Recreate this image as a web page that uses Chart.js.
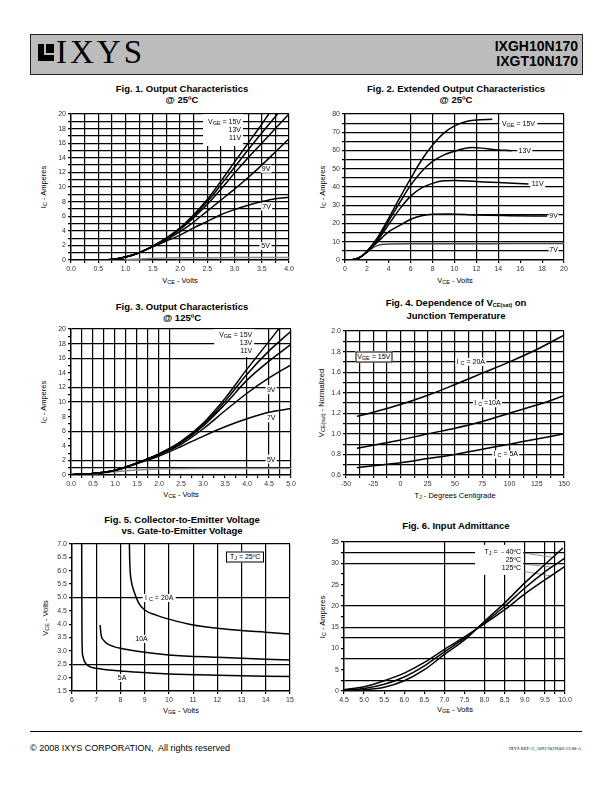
<!DOCTYPE html>
<html lang="en">
<head>
<meta charset="UTF-8">
<title>IXGH10N170 / IXGT10N170</title>
<script src="https://cdn.jsdelivr.net/npm/chart.js"></script>
<style>
  body { margin: 0; background: #fff; font-family: 'Liberation Sans', Arial, sans-serif; color: #000; }
  #page { position: relative; width: 612px; height: 792px; overflow: hidden; }
  .abs { position: absolute; white-space: nowrap; }
  .ttl { font-weight: bold; font-size: 9.5px; line-height: 11px; text-align: center; transform: translateX(-50%); }
  .axt { font-size: 7.5px; transform: translate(-50%, -50%); }
  .axt.rot { transform: translate(-50%, -50%) rotate(-90deg); }
  sub { font-size: 5.5px; vertical-align: -1px; line-height: 0; }
  .note { position: absolute; font-size: 7px; line-height: 8px; transform: translate(-50%, -50%);
          display: flex; flex-direction: column; justify-content: center; box-sizing: border-box; white-space: nowrap; }
  canvas { position: absolute; }
</style>
</head>
<body>
<div id="page">
  <!-- header -->
  <div class="abs" style="left:30px;top:34px;width:551px;height:39px;background:#bcbcbc;border:1px solid #222;"></div>
  <div class="abs" style="left:38px;top:44px;width:16px;height:17px;background:#000;"></div>
  <div class="abs" style="left:44px;top:44px;width:2px;height:11px;background:#bcbcbc;"></div>
  <div class="abs" style="left:44px;top:53px;width:10px;height:2px;background:#bcbcbc;"></div>
  <div class="abs" style="left:56px;top:33px;font-family:'Liberation Serif',serif;font-size:33px;letter-spacing:3px;line-height:38px;">IXYS</div>
  <div class="abs" style="right:34px;top:39px;font-weight:bold;font-size:14px;line-height:15px;text-align:right;">IXGH10N170<br>IXGT10N170</div>

  <!-- titles -->
  <div class="abs ttl" style="left:182px;top:83px;">Fig. 1. Output Characteristics<br>@ 25ºC</div>
  <div class="abs ttl" style="left:456px;top:83px;">Fig. 2. Extended Output Characteristics<br>@ 25ºC</div>
  <div class="abs ttl" style="left:182px;top:301px;">Fig. 3. Output Characteristics<br>@ 125ºC</div>
  <div class="abs ttl" style="left:456px;top:297px;line-height:12.5px;">Fig. 4. Dependence of V<sub>CE(sat)</sub> on<br>Junction Temperature</div>
  <div class="abs ttl" style="left:182px;top:514px;">Fig. 5. Collector-to-Emitter Voltage<br>vs. Gate-to-Emitter Voltage</div>
  <div class="abs ttl" style="left:456px;top:520px;">Fig. 6. Input Admittance</div>

  <!-- axis titles -->
  <div class="abs axt" style="left:180px;top:280px;">V<sub>CE</sub> - Volts</div>
  <div class="abs axt rot" style="left:43px;top:187px;">I<sub>C</sub> - Amperes</div>
  <div class="abs axt" style="left:455px;top:280px;">V<sub>CE</sub> - Volts</div>
  <div class="abs axt rot" style="left:322px;top:187px;">I<sub>C</sub> - Amperes</div>
  <div class="abs axt" style="left:181px;top:494px;">V<sub>CE</sub> - Volts</div>
  <div class="abs axt rot" style="left:43px;top:402px;">I<sub>C</sub> - Amperes</div>
  <div class="abs axt" style="left:455px;top:495px;">T<sub>J</sub> - Degrees Centigrade</div>
  <div class="abs axt rot" style="left:321px;top:403px;">V<sub>CE(sat)</sub> - Normalized</div>
  <div class="abs axt" style="left:181px;top:710px;">V<sub>GE</sub> - Volts</div>
  <div class="abs axt rot" style="left:45px;top:618px;">V<sub>CE</sub> - Volts</div>
  <div class="abs axt" style="left:455px;top:709px;">V<sub>GE</sub> - Volts</div>
  <div class="abs axt rot" style="left:322px;top:617px;">I<sub>C</sub> - Amperes</div>

  <!-- footer -->
  <div class="abs" style="left:30px;top:731px;width:552px;height:1px;background:#000;"></div>
  <div class="abs" style="left:30px;top:743px;font-size:9px;line-height:11px;">© 2008 IXYS CORPORATION,&nbsp; All rights reserved</div>
  <div class="abs" style="right:31px;top:746px;font-family:'Liberation Serif',serif;font-size:4.5px;line-height:6px;">IXYS REF: G_10N170(5N)03-13-08-A</div>
</div>

<script>
const FONT = "'Liberation Sans', Arial, sans-serif";

// Fig. 1  Output characteristics @ 25C  (VCE, IC)
const f1XTicks = [0, 0.5, 1.0, 1.5, 2.0, 2.5, 3.0, 3.5, 4.0];
const f1YTicks = [0, 2, 4, 6, 8, 10, 12, 14, 16, 18, 20];
const f1v15 = [[0,0],[0.5,0.02],[0.75,0.08],[1.0,0.4],[1.25,1.0],[1.5,1.9],[1.75,3.0],[2.0,4.4],[2.25,6.2],[2.5,8.3],[2.75,10.8],[3.0,13.4],[3.25,16.0],[3.5,18.6],[3.63,20]];
const f1v13 = [[0,0],[0.5,0.02],[0.75,0.08],[1.0,0.4],[1.25,1.0],[1.5,1.9],[1.75,3.0],[2.0,4.3],[2.25,6.0],[2.5,8.0],[2.75,10.3],[3.0,12.7],[3.25,15.1],[3.5,17.4],[3.79,20]];
const f1v11 = [[0,0],[0.5,0.02],[0.75,0.08],[1.0,0.4],[1.25,1.0],[1.5,1.9],[1.75,2.95],[2.0,4.2],[2.25,5.8],[2.5,7.6],[2.75,9.7],[3.0,11.9],[3.25,14.0],[3.5,16.0],[3.75,18.0],[4.0,20]];
const f1v9  = [[0,0],[0.5,0.02],[0.75,0.08],[1.0,0.4],[1.25,1.0],[1.5,1.85],[1.75,2.8],[2.0,3.9],[2.25,5.2],[2.5,6.7],[2.75,8.2],[3.0,9.7],[3.25,11.3],[3.5,13.0],[3.75,14.8],[4.0,16.6]];
const f1v7  = [[0,0],[0.5,0.02],[0.75,0.08],[1.0,0.4],[1.25,1.0],[1.5,1.8],[1.75,2.6],[2.0,3.4],[2.25,4.4],[2.5,5.3],[2.75,6.2],[3.0,6.9],[3.25,7.5],[3.5,8.0],[3.75,8.4],[4.0,8.6]];
const f1v5  = [[1.0,0.05],[1.25,0.15],[1.5,0.25],[2.0,0.3],[3.0,0.33],[4.0,0.35]];

// Fig. 2  Extended output characteristics @ 25C
const f2XTicks = [0, 2, 4, 6, 8, 10, 12, 14, 16, 18, 20];
const f2YTicks = [0, 10, 20, 30, 40, 50, 60, 70, 80];
const f2v15 = [[0,0],[0.5,0.05],[1.0,0.5],[1.5,2.0],[2.0,4.8],[3.0,12.5],[4.0,23],[5.0,34],[6.0,44.7],[7.0,54.8],[8.0,63],[9.0,69.4],[10.0,73.5],[11.0,75.8],[12.0,76.7],[13.45,77.1]];
const f2v13 = [[0,0],[0.5,0.05],[1.0,0.5],[1.5,2.0],[2.0,4.7],[3.0,12],[4.0,21.5],[5.0,31.5],[6.0,41],[7.0,48.5],[8.0,54],[9.0,57.5],[10.0,59.6],[11.0,61.2],[11.6,61.6],[12.5,61.3],[13.5,60.6],[15.2,59.9]];
const f2v11 = [[0,0],[0.5,0.05],[1.0,0.5],[1.5,2.0],[2.0,4.5],[3.0,11],[4.0,19.5],[5.0,28],[6.0,35],[7.0,39.5],[8.0,42],[9.0,43.4],[10.0,43.6],[12.0,43.0],[14.0,42.4],[16.75,41.6]];
const f2v9  = [[0,0],[0.5,0.05],[1.0,0.5],[1.5,2.0],[2.0,4.3],[3.0,10],[4.0,15.5],[5.0,19.0],[6.0,22.3],[7.0,24.3],[8.0,25.1],[9.5,25.2],[12.0,24.6],[15.0,24.3],[18.45,24.1]];
const f2v7  = [[0,0],[0.5,0.05],[1.0,0.5],[1.5,2.0],[2.0,4.2],[2.5,6.5],[3.0,8.0],[3.5,8.6],[4.0,8.8],[6.0,8.9],[10.0,8.9],[15.0,9.0],[20.0,9.1]];

// Fig. 3  Output characteristics @ 125C
const f3XTicks = [0, 0.5, 1.0, 1.5, 2.0, 2.5, 3.0, 3.5, 4.0, 4.5, 5.0];
const f3YTicks = [0, 2, 4, 6, 8, 10, 12, 14, 16, 18, 20];
const f3v15 = [[0,0.05],[0.5,0.2],[1.0,0.65],[1.5,1.65],[2.0,2.9],[2.5,4.6],[3.0,7.1],[3.5,10.5],[4.0,14.5],[4.5,18.3],[4.72,20]];
const f3v13 = [[0,0.05],[0.5,0.2],[1.0,0.65],[1.5,1.65],[2.0,2.9],[2.5,4.5],[3.0,6.9],[3.5,10.1],[4.0,13.8],[4.5,17.0],[5.0,19.7]];
const f3v11 = [[0,0.05],[0.5,0.2],[1.0,0.65],[1.5,1.65],[2.0,2.85],[2.5,4.4],[3.0,6.7],[3.5,9.7],[4.0,13.0],[4.5,15.6],[5.0,17.9]];
const f3v9  = [[0,0.05],[0.5,0.2],[1.0,0.65],[1.5,1.6],[2.0,2.8],[2.5,4.2],[3.0,6.3],[3.5,8.8],[4.0,11.2],[4.5,13.3],[5.0,15.1]];
const f3v7  = [[0,0.05],[0.5,0.2],[1.0,0.6],[1.5,1.55],[2.0,2.6],[2.5,3.9],[3.0,5.3],[3.5,6.6],[4.0,7.7],[4.5,8.6],[5.0,9.1]];
const f3v5  = [[0,0.05],[0.5,0.15],[1.0,0.45],[1.5,0.7],[2.0,0.82],[3.0,0.88],[5.0,0.9]];

// Fig. 4  VCE(sat) normalized vs junction temperature
const f4XTicks = [-50, -25, 0, 25, 50, 75, 100, 125, 150];
const f4YTicks = [0.6, 0.8, 1.0, 1.2, 1.4, 1.6, 1.8, 2.0];
const f4Temp = [-40, -25, 0, 25, 50, 75, 100, 125, 150];
const f4ic20 = [1.17, 1.21, 1.285, 1.375, 1.48, 1.59, 1.70, 1.82, 1.96];
const f4ic10 = [0.86, 0.89, 0.94, 1.0, 1.055, 1.12, 1.20, 1.28, 1.37];
const f4ic5  = [0.67, 0.69, 0.72, 0.76, 0.80, 0.85, 0.90, 0.95, 1.0];

// Fig. 5  VCE vs VGE @ TJ = 25C  (VGE, VCE)
const f5XTicks = [6, 7, 8, 9, 10, 11, 12, 13, 14, 15];
const f5YTicks = [1.5, 2.0, 2.5, 3.0, 3.5, 4.0, 4.5, 5.0, 5.5, 6.0, 6.5, 7.0];
const f5ic20 = [[8.37,7.0],[8.38,6.5],[8.40,6.0],[8.45,5.6],[8.55,5.25],[8.75,4.8],[9.0,4.53],[9.5,4.33],[10,4.19],[11,3.97],[12,3.85],[13,3.76],[14,3.70],[15,3.63]];
const f5ic10 = [[7.16,3.97],[7.2,3.6],[7.3,3.4],[7.45,3.27],[7.7,3.17],[8.0,3.10],[9.0,2.95],[10,2.85],[12,2.76],[15,2.66]];
const f5ic5  = [[6.40,7.0],[6.41,4.0],[6.42,3.1],[6.45,2.8],[6.52,2.6],[6.67,2.44],[7.0,2.35],[8,2.25],[9,2.19],[10,2.14],[12,2.09],[15,2.04]];

// Fig. 6  Input admittance  (VGE, IC)
const f6XTicks = [4.5, 5.0, 5.5, 6.0, 6.5, 7.0, 7.5, 8.0, 8.5, 9.0, 9.5, 10.0];
const f6YTicks = [0, 5, 10, 15, 20, 25, 30, 35];
const f6m40  = [[4.5,0.05],[5.0,0.3],[5.5,0.9],[6.0,2.4],[6.5,5.0],[7.0,8.6],[7.5,12.0],[8.0,16.4],[8.5,20.7],[9.0,25.4],[9.5,29.7],[9.95,33.6]];
const f6p25  = [[4.5,0.15],[5.0,0.6],[5.5,1.6],[6.0,3.3],[6.5,5.9],[7.0,9.2],[7.5,12.4],[8.0,16.1],[8.5,19.9],[9.0,24.2],[9.5,28.0],[10.0,31.2]];
const f6p125 = [[4.5,0.3],[5.0,1.0],[5.5,2.4],[6.0,4.2],[6.5,6.7],[7.0,9.8],[7.5,12.7],[8.0,15.8],[8.5,19.1],[9.0,22.8],[9.5,26.1],[10.0,29.3]];
const f6lead40  = [[8.97,32.4],[9.70,31.4]];
const f6lead25  = [[8.97,29.8],[9.68,29.1]];
const f6lead125 = [[8.97,28.1],[9.66,27.0]];

const PADL = 36, PADR = 14, PADT = 8, PADB = 16;
const page = document.getElementById('page');

function range(a, b, s) {
  const out = [];
  for (let v = a; v <= b + 1e-9; v += s) out.push(Math.round(v * 1000) / 1000);
  return out;
}
function near(v, list) { return list.some(g => Math.abs(g - v) < 1e-6); }

function makeAxis(o) {
  return {
    type: 'linear', min: o.min, max: o.max,
    afterBuildTicks: s => { s.ticks = o.ticks.map(v => ({ value: v })); },
    afterFit: s => { if (o.w) s.width = o.w; if (o.h) s.height = o.h; },
    ticks: {
      autoSkip: false, maxRotation: 0, padding: 2, color: '#333',
      font: { size: 7, family: FONT },
      callback: v => near(v, o.labels) ? o.fmt(v) : ''
    },
    grid: {
      color: c => (c.tick && near(c.tick.value, o.grid)) ? '#000' : 'rgba(0,0,0,0)',
      lineWidth: 1.2, tickLength: 3, tickColor: '#000', drawTicks: true
    },
    border: { color: '#000', width: 1.5 }
  };
}

// white boxes behind in-plot labels, drawn over the grid but under the curves
const noteBoxes = {
  id: 'noteBoxes',
  beforeDatasetsDraw(chart, args, opts) {
    const { ctx, scales: { x, y } } = chart;
    ctx.save();
    ctx.fillStyle = '#fff';
    (opts.notes || []).forEach(n => {
      const px = x.getPixelForValue(n.x), py = y.getPixelForValue(n.y);
      ctx.fillRect(px - n.w / 2, py - n.h / 2, n.w, n.h);
    });
    ctx.restore();
  }
};

function line(data, color, width) {
  return {
    data: data.map(p => ({ x: p[0], y: p[1] })),
    showLine: true, borderColor: color || '#000', borderWidth: width || 1.5,
    pointRadius: 0, fill: false, cubicInterpolationMode: 'monotone'
  };
}

function makeFig(box, xo, yo, datasets, notes) {
  const W = box.r - box.l + PADL + PADR, H = box.b - box.t + PADT + PADB;
  const left = box.l - PADL, top = box.t - PADT;
  const cv = document.createElement('canvas');
  cv.width = W; cv.height = H;
  cv.style.left = left + 'px'; cv.style.top = top + 'px';
  cv.style.width = W + 'px'; cv.style.height = H + 'px';
  page.appendChild(cv);
  const chart = new Chart(cv, {
    type: 'scatter',
    data: { datasets },
    options: {
      responsive: false, animation: false, events: [],
      layout: { padding: { left: 0, top: PADT, right: PADR, bottom: 0 } },
      plugins: { legend: { display: false }, tooltip: { enabled: false }, noteBoxes: { notes } },
      scales: { x: makeAxis(Object.assign({ h: PADB }, xo)), y: makeAxis(Object.assign({ w: PADL }, yo)) }
    },
    plugins: [noteBoxes]
  });
  notes.forEach(n => {
    const d = document.createElement('div');
    d.className = 'note';
    d.style.left = (left + chart.scales.x.getPixelForValue(n.x)) + 'px';
    d.style.top = (top + chart.scales.y.getPixelForValue(n.y)) + 'px';
    d.style.width = n.w + 'px';
    d.style.height = n.h + 'px';
    d.style.alignItems = n.align === 'right' ? 'flex-end' : 'center';
    if (n.align === 'right') d.style.paddingRight = '2px';
    if (n.boxed) { d.style.border = '1px solid #000'; d.style.background = '#fff'; }
    d.innerHTML = n.html;
    page.appendChild(d);
  });
  return chart;
}

const f1 = v => v.toFixed(1), f0 = v => String(Math.round(v));

// Fig. 1
makeFig({ l: 71, r: 289, t: 114, b: 260 },
  { min: 0, max: 4, ticks: range(0, 4, 0.25), labels: f1XTicks, grid: range(0.25, 4, 0.25), fmt: f1 },
  { min: 0, max: 20, ticks: range(0, 20, 1), labels: f1YTicks, grid: range(1, 20, 1), fmt: f0 },
  [line(f1v15), line(f1v13), line(f1v11), line(f1v9), line(f1v7), line(f1v5, '#8a8a8a')],
  [
    { x: 2.79, y: 17.8, w: 40, h: 32, align: 'right', html: '<span>V<sub>GE</sub> = 15V</span><span>13V</span><span>11V</span>' },
    { x: 3.58, y: 12.5, w: 11, h: 8, html: '9V' },
    { x: 3.59, y: 7.31, w: 11, h: 8, html: '7V' },
    { x: 3.57, y: 1.91, w: 12, h: 8, html: '5V' }
  ]);

// Fig. 2
makeFig({ l: 345, r: 564, t: 114, b: 260 },
  { min: 0, max: 20, ticks: f2XTicks, labels: f2XTicks, grid: [6, 8, 10, 12, 14, 20], fmt: f0 },
  { min: 0, max: 80, ticks: range(0, 80, 5), labels: f2YTicks, grid: range(5, 80, 5), fmt: f0 },
  [line(f2v15), line(f2v13), line(f2v11), line(f2v9), line(f2v7, '#444')],
  [
    { x: 15.84, y: 74.5, w: 38, h: 8, html: '<span>V<sub>GE</sub> = 15V</span>' },
    { x: 16.42, y: 59.9, w: 15, h: 8, html: '13V' },
    { x: 17.6, y: 41.6, w: 15, h: 8, html: '11V' },
    { x: 19.05, y: 24.1, w: 10, h: 8, html: '9V' },
    { x: 19.05, y: 5.5, w: 10, h: 8, html: '7V' }
  ]);

// Fig. 3
makeFig({ l: 71, r: 291, t: 329, b: 475 },
  { min: 0, max: 5, ticks: range(0, 5, 0.25), labels: f3XTicks, grid: range(0.25, 2.25, 0.25).concat([4.0, 4.5, 4.75, 5.0]), fmt: f1 },
  { min: 0, max: 20, ticks: range(0, 20, 1), labels: f3YTicks, grid: [1, 2, 6, 10, 12, 16, 18, 20], fmt: f0 },
  [line(f3v15), line(f3v13), line(f3v11), line(f3v9), line(f3v7), line(f3v5, '#8a8a8a')],
  [
    { x: 3.71, y: 18.08, w: 40, h: 28, align: 'right', html: '<span>V<sub>GE</sub> = 15V</span><span>13V</span><span>11V</span>' },
    { x: 4.55, y: 11.7, w: 11, h: 9, html: '9V' },
    { x: 4.55, y: 7.85, w: 11, h: 9, html: '7V' },
    { x: 4.55, y: 2.19, w: 11, h: 9, html: '5V' }
  ]);

// Fig. 4
makeFig({ l: 346, r: 564, t: 331, b: 475 },
  { min: -50, max: 150, ticks: range(-50, 150, 12.5), labels: f4XTicks, grid: range(-37.5, 150, 12.5), fmt: f0 },
  { min: 0.6, max: 2.0, ticks: range(0.6, 2.0, 0.1), labels: f4YTicks, grid: range(0.7, 2.0, 0.1), fmt: f1 },
  [
    line(f4Temp.map((t, i) => [t, f4ic20[i]])),
    line(f4Temp.map((t, i) => [t, f4ic10[i]])),
    line(f4Temp.map((t, i) => [t, f4ic5[i]]))
  ],
  [
    { x: -24.6, y: 1.75, w: 37, h: 11, boxed: true, html: '<span>V<sub>GE</sub> = 15V</span>' },
    { x: 64.5, y: 1.70, w: 31, h: 8, html: '<span>I <sub>C</sub> = 20A</span>' },
    { x: 79.8, y: 1.297, w: 29, h: 8, html: '<span>I <sub>C</sub> =10A</span>' },
    { x: 96.6, y: 0.80, w: 27, h: 8, html: '<span>I <sub>C</sub> = 5A</span>' }
  ]);

// Fig. 5
makeFig({ l: 72, r: 290, t: 544, b: 691 },
  { min: 6, max: 15, ticks: f5XTicks, labels: f5XTicks, grid: range(7, 15, 1), fmt: f0 },
  { min: 1.5, max: 7.0, ticks: f5YTicks, labels: f5YTicks, grid: [2.5, 5.0, 7.0], fmt: f1 },
  [line(f5ic20), line(f5ic10), line(f5ic5)],
  [
    { x: 13.15, y: 6.52, w: 38, h: 11, boxed: true, html: '<span>T<sub>J</sub> = 25ºC</span>' },
    { x: 9.6, y: 4.98, w: 33, h: 8, html: '<span>I <sub>C</sub> = 20A</span>' },
    { x: 8.87, y: 3.45, w: 14, h: 8, html: '10A' },
    { x: 8.07, y: 1.99, w: 11, h: 8, html: '5A' }
  ]);

// Fig. 6
makeFig({ l: 344, r: 565, t: 542, b: 691 },
  { min: 4.5, max: 10, ticks: range(4.5, 10, 0.5).concat([9.75]).sort((a, b) => a - b), labels: f6XTicks, grid: [7.0, 8.0, 8.5, 9.0, 9.5, 9.75, 10.0], fmt: f1 },
  { min: 0, max: 35, ticks: range(0, 35, 2.5), labels: f6YTicks, grid: [2.5, 7.5, 12.5, 15, 20, 30, 32.5, 35], fmt: f0 },
  [line(f6m40), line(f6p25), line(f6p125),
   line(f6lead40, '#777', 0.8), line(f6lead25, '#777', 0.8), line(f6lead125, '#777', 0.8)],
  [
    { x: 8.36, y: 30.8, w: 48, h: 30, align: 'right', html: '<span>T<sub>J</sub> = &nbsp;- 40ºC</span><span>25ºC</span><span>125ºC</span>' }
  ]);
</script>
</body>
</html>
